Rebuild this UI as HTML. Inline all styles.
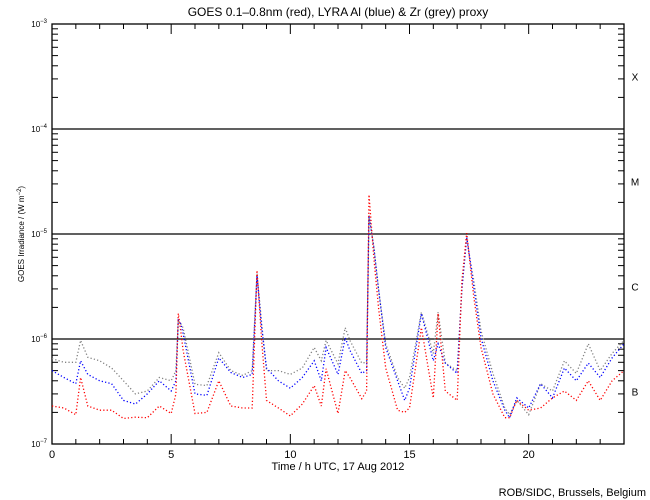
<!DOCTYPE html>
<html><head><meta charset="utf-8"><style>
body{margin:0;background:#fff;}
svg{display:block;font-family:"Liberation Sans",sans-serif;}
</style></head><body>
<svg id="chart" width="650" height="500" viewBox="0 0 650 500">
<rect width="650" height="500" fill="#fff"/>
<text x="338" y="16" font-size="12" text-anchor="middle">GOES 0.1–0.8nm (red), LYRA Al (blue) &amp; Zr (grey) proxy</text>
<text transform="translate(24,234) rotate(-90)" font-size="8" text-anchor="middle">GOES Irradiance / (W m<tspan dy="-3" font-size="6">−2</tspan><tspan dy="3">)</tspan></text>
<text x="338" y="470" font-size="11" text-anchor="middle">Time / h UTC, 17 Aug 2012</text>
<text x="646" y="496" font-size="11" text-anchor="end">ROB/SIDC, Brussels, Belgium</text>
<g id="axes"></g>
<g id="series"></g>
</svg>
<script>
// hours of samples
const times = [0,0.5,1,1.2,1.5,2,2.5,3,3.5,4,4.5,5,5.2,5.3,5.4,5.5,6,6.5,7,7.5,8,8.4,8.6,8.8,9,9.5,10,10.5,11,11.3,11.5,12,12.3,12.5,13,13.2,13.3,13.5,13.7,14,14.5,14.8,15,15.5,16,16.2,16.5,17,17.2,17.4,17.55,17.7,18,18.5,19,19.2,19.5,20,20.5,21,21.5,22,22.5,23,23.5,24];
// values in units of 1e-7 W m^-2
const red  = [2.3,2.2,1.9,4.3,2.3,2.1,2.1,1.75,1.8,1.78,2.3,1.95,3.0,17.5,12,7.8,1.95,2.0,4.0,2.3,2.2,2.2,45,9.6,2.6,2.2,1.85,2.4,3.6,2.3,5.2,1.95,5.0,4.3,2.7,3.2,236,60,20,5.3,2.1,2.0,2.2,12.8,2.75,17.5,3.2,2.6,36,102,50,25,8.3,3.0,1.78,1.78,2.6,2.1,2.2,2.75,3.2,2.6,4.0,2.6,4.0,5.0];
const blue = [5.0,4.3,3.75,6.2,4.6,4.0,3.75,2.6,2.4,3.0,4.0,3.2,4.0,15,14,11.3,3.0,2.9,6.6,4.8,4.3,4.6,40,12.8,5.3,4.0,3.4,4.3,6.2,4.0,8.3,4.6,10.3,7.8,4.7,5.0,150,75,30,8.3,4.0,2.6,3.4,17.5,6.2,9.0,5.9,4.7,30,93,55,31,10.3,4.0,2.1,1.78,2.75,2.2,3.75,2.75,5.3,4.0,5.9,4.3,6.6,9.0];
const grey = [6.5,6.0,6.0,9.7,6.7,6.2,5.3,4.0,3.0,3.2,4.3,4.0,5.0,15,14,12.8,3.7,3.6,7.4,5.0,4.5,5.0,42,14,5.0,5.0,4.6,5.3,8.3,6.2,9.7,5.8,12.8,9.7,5.9,6.0,150,75,30,9.0,4.3,3.4,4.3,18,7.3,18,5.9,5.0,30,93,55,36,12,4.7,2.2,1.9,2.6,1.9,3.75,3.2,6.2,4.7,9.0,5.0,7.3,9.7];
const decadeLabels = ["−7","−6","−5","−4","−3"];
const classLabels = ["B","C","M","X"];
const xTicks = [0,5,10,15,20];

const NS="http://www.w3.org/2000/svg";
const L=52,R=624,T=24,B=444;
const xs=h=>L+(R-L)*h/24;
const ys=v=>B-(Math.log10(v*1e-7)+7)*(B-T)/4;
function mk(tag,attrs,parent){const e=document.createElementNS(NS,tag);for(const k in attrs)e.setAttribute(k,attrs[k]);parent.appendChild(e);return e;}
const ax=document.getElementById('axes');
const fr=mk('rect',{x:L,y:T,width:R-L,height:B-T,fill:'none',stroke:'#000','stroke-width':1.3},ax);


for(let d=0;d<=4;d++){
  const y=B-d*(B-T)/4;
  if(d>0&&d<4){const g=mk('line',{x1:L,x2:R,y1:y,y2:y,stroke:'#000','stroke-width':1.3},ax);
    
    }
  const t=mk('text',{x:47,y:y+3,'font-size':8,'text-anchor':'end'},ax);
  
  
  t.innerHTML='10<tspan dy="-4" font-size="6">'+decadeLabels[d]+'</tspan>';
  if(d<4){for(let m=2;m<=9;m++){const yy=y-Math.log10(m)*(B-T)/4;
    mk('line',{x1:L,x2:L+6,y1:yy,y2:yy,stroke:'#000'},ax);
    mk('line',{x1:R,x2:R-6,y1:yy,y2:yy,stroke:'#000'},ax);}
    const c=mk('text',{x:635,y:y-(B-T)/8+4,'font-size':10,'text-anchor':'middle'},ax);
    
    
    c.textContent=classLabels[d];
  }
}
for(let h=0;h<=24;h++){const x=xs(h);const big=h%5===0;
  mk('line',{x1:x,x2:x,y1:B,y2:B-(big?10:5),stroke:'#000'},ax);
  mk('line',{x1:x,x2:x,y1:T,y2:T+(big?10:5),stroke:'#000'},ax);}
xTicks.forEach(h=>{const t=mk('text',{x:xs(h),y:458,'font-size':11,'text-anchor':'middle'},ax);
  
  
  t.textContent=h;});
const sg=document.getElementById('series');
[[grey,'#808080','series-zr-grey'],[blue,'#0000ff','series-al-blue'],[red,'#ff0000','series-goes-red']].forEach(([arr,col,name])=>{
  const d=arr.map((v,i)=>(i?'L':'M')+xs(times[i]).toFixed(1)+','+ys(v).toFixed(1)).join(' ');
  const p=mk('path',{d:d,fill:'none',stroke:col,'stroke-width':1.3,'stroke-dasharray':'1.2 2.2'},sg);
  
  
});
</script>
</body></html>
